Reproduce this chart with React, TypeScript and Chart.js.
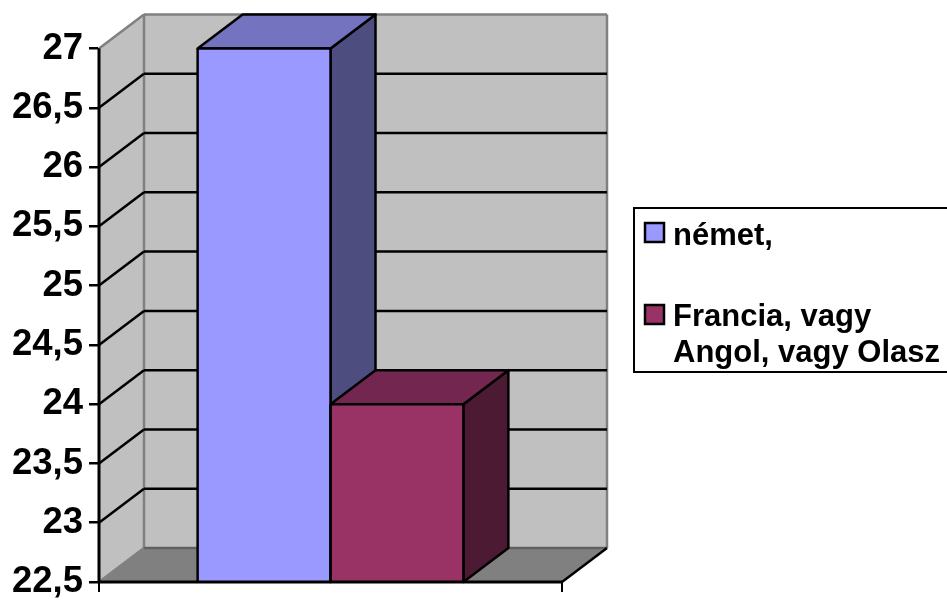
import React, { useEffect, useRef } from "react";
import { Chart, registerables } from "chart.js";

Chart.register(...registerables);

const categories = [""];
const germanValues = [27];
const otherValues = [24];
const germanLegend = ["német,"];
const otherLegend = ["Francia, vagy", "Angol, vagy Olasz"];
const yMin = 22.5;
const yMax = 27;
const yStep = 0.5;

const DX = 45;
const DY = -34;
const LW = 2.5;
const FONT = '"Liberation Sans", Arial, sans-serif';

const poly = (ctx: CanvasRenderingContext2D, pts: number[][], fill: string | null, stroke: string | null, lw = LW) => {
  ctx.beginPath();
  pts.forEach((p, i) => (i ? ctx.lineTo(p[0], p[1]) : ctx.moveTo(p[0], p[1])));
  ctx.closePath();
  if (fill) {
    ctx.fillStyle = fill;
    ctx.fill();
  }
  if (stroke) {
    ctx.strokeStyle = stroke;
    ctx.lineWidth = lw;
    ctx.stroke();
  }
};

const line = (ctx: CanvasRenderingContext2D, x1: number, y1: number, x2: number, y2: number, color: string, lw = LW) => {
  ctx.beginPath();
  ctx.moveTo(x1, y1);
  ctx.lineTo(x2, y2);
  ctx.strokeStyle = color;
  ctx.lineWidth = lw;
  ctx.stroke();
};

const faces = [
  { top: "#7373BF", side: "#4D4D80" },
  { top: "#732650", side: "#4D1A33" },
];

const box3d = {
  id: "box3d",
  beforeDatasetsDraw(chart: any) {
    const { ctx, chartArea: a, scales } = chart;
    const y = scales.y;
    ctx.save();
    const { left: l, right: r, top: t, bottom: b } = a;
    // walls
    poly(ctx, [[l, t], [l + DX, t + DY], [l + DX, b + DY], [l, b]], "#C0C0C0", null);
    poly(ctx, [[l + DX, t + DY], [r + DX, t + DY], [r + DX, b + DY], [l + DX, b + DY]], "#C0C0C0", null);
    poly(ctx, [[l, b], [l + DX, b + DY], [r + DX, b + DY], [r, b]], "#808080", null);
    // wall edges
    line(ctx, l, t, l + DX, t + DY, "#808080");
    line(ctx, l + DX, t + DY, r + DX, t + DY, "#808080");
    line(ctx, l + DX, t + DY, l + DX, b + DY, "#808080");
    line(ctx, r + DX, t + DY, r + DX, b + DY, "#808080");
    line(ctx, l + DX, b + DY, r + DX, b + DY, "#606060");
    line(ctx, l, b, l + DX, b + DY, "#808080");
    // grid lines
    for (let v = yMin + yStep; v < yMax; v += yStep) {
      const py = y.getPixelForValue(v);
      line(ctx, l, py, l + DX, py + DY, "#000");
      line(ctx, l + DX, py + DY, r + DX, py + DY, "#000");
    }
    line(ctx, r, b, r + DX, b + DY, "#000");
    // bar faces
    ctx.lineJoin = "round";
    chart.getSortedVisibleDatasetMetas().forEach((meta: any) => {
      const f = faces[meta.index];
      const bar = meta.data[0];
      const x0 = bar.x - bar.width / 2;
      const x1 = bar.x + bar.width / 2;
      poly(ctx, [[x1, bar.y], [x1 + DX, bar.y + DY], [x1 + DX, b + DY], [x1, b]], f.side, "#000");
      poly(ctx, [[x0, bar.y], [x0 + DX, bar.y + DY], [x1 + DX, bar.y + DY], [x1, bar.y]], f.top, "#000");
    });
    ctx.restore();
  },
  afterDatasetsDraw(chart: any) {
    const { ctx, chartArea: a } = chart;
    ctx.save();
    line(ctx, a.left, a.bottom, a.right, a.bottom, "#000", 3);
    line(ctx, a.left, a.top, a.left, a.bottom, "#000", 3);
    chart.getSortedVisibleDatasetMetas().forEach((meta: any) => {
      const bar = meta.data[0];
      const x0 = bar.x - bar.width / 2;
      const x1 = bar.x + bar.width / 2;
      line(ctx, x0, bar.y, x1, bar.y, "#000");
      line(ctx, x0, bar.y, x0, a.bottom, "#000");
      line(ctx, x1, bar.y, x1, a.bottom, "#000");
    });
    ctx.restore();
  },
  afterDraw(chart: any) {
    const ctx = chart.ctx as CanvasRenderingContext2D;
    ctx.save();
    ctx.fillStyle = "#fff";
    ctx.strokeStyle = "#000";
    ctx.lineWidth = 2;
    ctx.fillRect(634, 208, 320, 164);
    ctx.strokeRect(634, 208, 320, 164);
    ctx.font = `bold 31px ${FONT}`;
    ctx.textBaseline = "alphabetic";
    ctx.textAlign = "left";
    const entries = [
      { lines: chart.data.datasets[0].legendLines, swatchY: 223, baseY: 245 },
      { lines: chart.data.datasets[1].legendLines, swatchY: 305, baseY: 326 },
    ];
    entries.forEach((e, i) => {
      ctx.fillStyle = chart.data.datasets[i].backgroundColor;
      ctx.fillRect(645, e.swatchY, 19, 19);
      ctx.strokeStyle = "#000";
      ctx.lineWidth = 2.5;
      ctx.strokeRect(645, e.swatchY, 19, 19);
      ctx.fillStyle = "#000";
      e.lines.forEach((t: string, k: number) => ctx.fillText(t, 673, e.baseY + k * 36));
    });
    ctx.restore();
  },
};

export default function App() {
  const ref = useRef<HTMLCanvasElement>(null);
  useEffect(() => {
    const chart = new Chart(ref.current as HTMLCanvasElement, {
      type: "bar",
      data: {
        labels: categories,
        datasets: [
          {
            label: germanLegend.join(" "),
            legendLines: germanLegend,
            data: germanValues,
            backgroundColor: "#9999FF",
            borderWidth: 0,
          } as any,
          {
            label: otherLegend.join(" "),
            legendLines: otherLegend,
            data: otherValues,
            backgroundColor: "#993366",
            borderWidth: 0,
          } as any,
        ],
      },
      options: {
        responsive: false,
        animation: false,
        layout: { padding: { left: 0, top: 48.5, right: 385, bottom: 0 } },
        categoryPercentage: 0.574,
        barPercentage: 1,
        plugins: { legend: { display: false }, tooltip: { enabled: false }, title: { display: false } },
        scales: {
          x: {
            grid: { drawOnChartArea: false, drawTicks: true, tickLength: 10, tickColor: "#000", lineWidth: 2, color: "#000" },
            border: { color: "#000", width: 2 },
            ticks: { display: false },
            afterFit: (s: any) => {
              s.height = 19;
            },
          },
          y: {
            min: yMin,
            max: yMax,
            grid: { drawOnChartArea: false, tickLength: 10, tickColor: "#000", lineWidth: 2.5, color: "#000" },
            border: { color: "#000", width: 2 },
            ticks: {
              stepSize: yStep,
              padding: 6,
              color: "#000",
              font: { family: FONT, size: 36.5, weight: "bold" },
              callback: (v: any) => String(v).replace(".", ","),
            },
            afterFit: (s: any) => {
              s.width = 99;
              s.paddingTop = 0;
              s.paddingBottom = 0;
            },
          },
        },
      } as any,
      plugins: [box3d as any],
    });
    return () => chart.destroy();
  }, []);
  return (
    <div style={{ position: "absolute", left: 0, top: 0, width: 947, height: 601, overflow: "hidden", background: "#fff" }}>
      <canvas ref={ref} width={947} height={601} style={{ display: "block" }} />
    </div>
  );
}
